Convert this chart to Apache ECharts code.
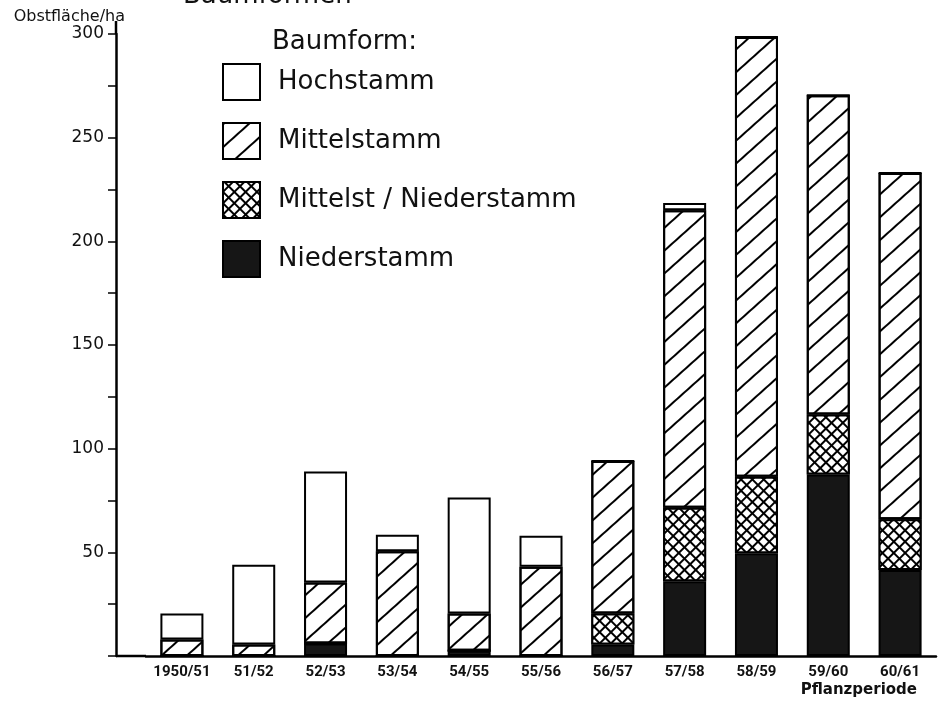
<!DOCTYPE html>
<html>
<head>
<meta charset="utf-8">
<title>Baumformen</title>
<script src="https://cdn.jsdelivr.net/npm/echarts@6/dist/echarts.min.js"></script>
<style>
html, body { margin: 0; padding: 0; background: #fff; }
#main { width: 938px; height: 701px; }
</style>
</head>
<body>
<div id="main"></div>
<script>
// Pflanzperioden und Obstfläche (ha) je Baumform
var perioden = ['1950/51', '51/52', '52/53', '53/54', '54/55', '55/56', '56/57', '57/58', '58/59', '59/60', '60/61'];
var niederstamm = [0, 0, 6, 0, 2.5, 0, 5.5, 36, 49.5, 87.5, 41.5];
var mittelNieder = [0, 0, 0, 0, 0, 0, 15, 35.5, 37, 29, 24.5];
var mittelstamm = [8, 5.5, 29.5, 50.5, 18, 43, 73.5, 143.5, 212, 154, 167];
var hochstamm = [12.5, 38.5, 53.5, 8, 56, 15, 0, 3.5, 0, 0, 0];
var yTicks = [50, 100, 150, 200, 250, 300];

var gridLeft = 146, gridTop = 34, gridBottom = 45, axisOffset = 30;
var font = 'DejaVu Sans';

var chart = echarts.init(document.getElementById('main'));

function barSeries(name, data, color, decal) {
    var s = {
        name: name,
        type: 'bar',
        stack: 'flaeche',
        barWidth: 43,
        data: data,
        itemStyle: {
            color: color,
            borderColor: '#000',
            borderWidth: 2
        }
    };
    if (decal) s.itemStyle.decal = decal;
    return s;
}

var schraffur = {
    symbol: 'rect',
    symbolSize: 1,
    color: '#000',
    backgroundColor: 'transparent',
    dashArrayX: [1, 0],
    dashArrayY: [1.8, 14.5],
    rotation: -Math.PI / 4.3
};
var kreuz = {
    symbol: 'rect',
    symbolSize: 1,
    color: '#fff',
    backgroundColor: '#000',
    dashArrayX: [5.4, 1.8],
    dashArrayY: [5.4, 1.8],
    rotation: Math.PI / 4
};

var option = {
    backgroundColor: '#fff',
    animation: false,
    title: [{
        text: 'Baumformen',
        left: 178,
        top: -22,
        textStyle: { fontFamily: font, fontSize: 26, fontWeight: 'normal', color: '#111' }
    }, {
        text: 'Baumform:',
        left: 267,
        top: 24,
        textStyle: { fontFamily: font, fontSize: 26, fontWeight: 'normal', color: '#111' }
    }],
    legend: {
        data: ['Hochstamm', 'Mittelstamm', 'Mittelst / Niederstamm', 'Niederstamm'],
        orient: 'vertical',
        left: 217,
        top: 58,
        itemWidth: 37,
        itemHeight: 36,
        itemGap: 21,
        icon: 'rect',
        selectedMode: false,
        itemStyle: { borderColor: '#000', borderWidth: 2 },
        textStyle: { fontFamily: font, fontSize: 26, color: '#111', padding: [0, 0, 0, 13] }
    },
    grid: {
        left: gridLeft,
        right: 2,
        top: gridTop,
        bottom: gridBottom,
        containLabel: false
    },
    xAxis: {
        type: 'category',
        data: perioden,
        name: 'Pflanzperiode',
        nameLocation: 'end',
        nameGap: -19,
        nameTextStyle: {
            fontFamily: font, fontSize: 15, fontWeight: 'bold', color: '#111',
            align: 'right', verticalAlign: 'top', padding: [27, 0, 0, 0]
        },
        axisLine: { lineStyle: { color: '#000', width: 2.5 } },
        axisTick: { show: false },
        axisLabel: {
            interval: 0,
            margin: 9,
            fontFamily: 'Roboto', fontSize: 15, fontWeight: 'bold', color: '#111'
        }
    },
    yAxis: {
        type: 'value',
        min: 0,
        max: 300,
        interval: 50,
        offset: axisOffset,
        name: 'Obstfläche/ha',
        nameLocation: 'end',
        nameGap: 9,
        nameTextStyle: { fontFamily: font, fontSize: 16, color: '#111', align: 'right', padding: [0, -9, 0, 0] },
        axisLine: { show: true, lineStyle: { color: '#000', width: 2.5 } },
        axisTick: { show: true, length: 8, lineStyle: { color: '#000', width: 1.5 } },
        minorTick: { show: true, splitNumber: 2, length: 8, lineStyle: { color: '#000', width: 1.5 } },
        splitLine: { show: false },
        axisLabel: {
            margin: 12,
            fontFamily: font, fontSize: 17, color: '#111',
            formatter: function (v) { return yTicks.indexOf(v) >= 0 ? String(v) : ''; }
        }
    },
    graphic: [{
        type: 'line',
        shape: { x1: gridLeft - axisOffset, y1: 701 - gridBottom, x2: gridLeft, y2: 701 - gridBottom },
        style: { stroke: '#000', lineWidth: 2.5 }
    }, {
        type: 'line',
        shape: { x1: gridLeft - axisOffset, y1: gridTop, x2: gridLeft - axisOffset, y2: gridTop - 13 },
        style: { stroke: '#000', lineWidth: 2.5 }
    }],
    series: [
        barSeries('Niederstamm', niederstamm, '#161616'),
        barSeries('Mittelst / Niederstamm', mittelNieder, '#000', kreuz),
        barSeries('Mittelstamm', mittelstamm, '#fff', schraffur),
        barSeries('Hochstamm', hochstamm, '#fff')
    ]
};

chart.setOption(option);
</script>
</body>
</html>
